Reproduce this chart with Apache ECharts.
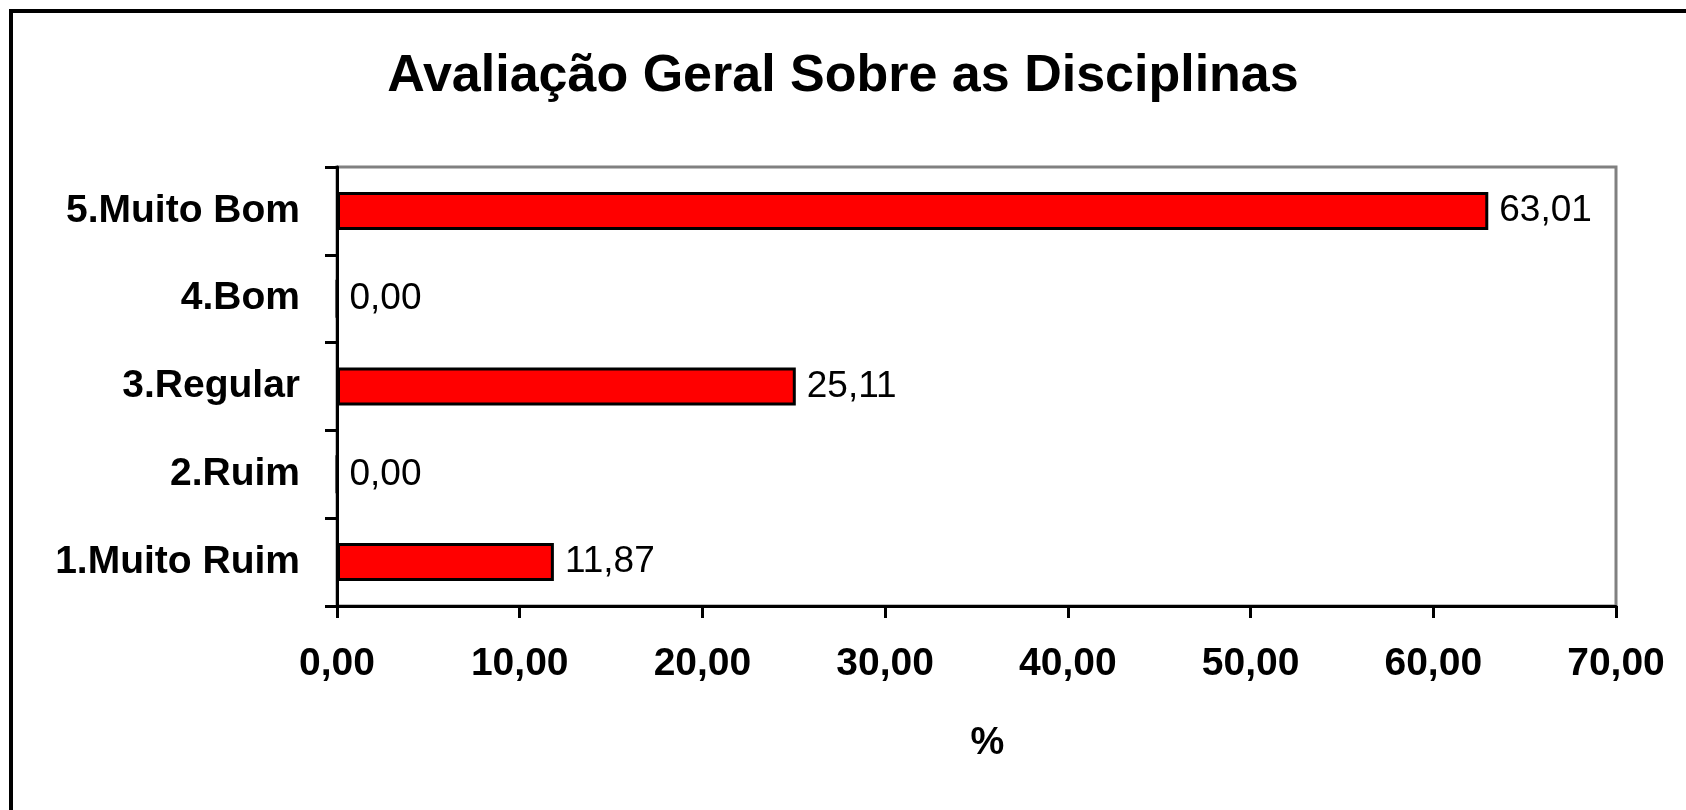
<!DOCTYPE html>
<html>
<head>
<meta charset="utf-8">
<script src="https://cdn.jsdelivr.net/npm/echarts@6/dist/echarts.min.js"></script>
<style>
  html, body {margin: 0; padding: 0; background: #fff;}
  #chart {width: 1686px; height: 810px;}
</style>
</head>
<body>
<div id="chart"></div>
<script>
  // dados
  const categorias = ['1.Muito Ruim', '2.Ruim', '3.Regular', '4.Bom', '5.Muito Bom'];
  const percentuais = [11.87, 0.00, 25.11, 0.00, 63.01];
  const eixoX = {min: 0, max: 70, interval: 10};

  const fonte = "Arial, 'Liberation Sans', sans-serif";
  const virgula = function (v) {
    return Number(v).toFixed(2).replace('.', ',');
  };

  const option = {
    backgroundColor: '#fff',
    animation: false,
    title: {
      text: 'Avaliação Geral Sobre as Disciplinas',
      left: 'center',
      top: 46,
      textStyle: {
        fontFamily: fonte,
        fontSize: 52,
        fontWeight: 'bold',
        color: '#000'
      }
    },
    graphic: [{
      type: 'rect',
      shape: {x: 11, y: 11, width: 2000, height: 2000},
      style: {fill: 'none', stroke: '#000', lineWidth: 4},
      silent: true
    }],
    grid: {
      left: 337,
      right: 70,
      top: 167,
      bottom: 204,
      show: true,
      borderColor: '#808080',
      borderWidth: 3,
      backgroundColor: '#fff'
    },
    xAxis: {
      type: 'value',
      min: eixoX.min,
      max: eixoX.max,
      interval: eixoX.interval,
      name: '%',
      nameLocation: 'middle',
      nameGap: 119,
      nameTextStyle: {
        fontFamily: fonte,
        fontSize: 38,
        fontWeight: 'bold',
        color: '#000',
        padding: [0, 0, 0, 22]
      },
      splitLine: {show: false},
      axisLine: {show: true, lineStyle: {color: '#000', width: 3}},
      axisTick: {show: true, length: 12, lineStyle: {color: '#000', width: 3}},
      axisLabel: {
        margin: 39,
        fontFamily: fonte,
        fontSize: 39,
        fontWeight: 'bold',
        color: '#000',
        formatter: virgula
      }
    },
    yAxis: {
      type: 'category',
      data: categorias,
      axisLine: {show: true, lineStyle: {color: '#000', width: 3}},
      axisTick: {show: true, length: 12, lineStyle: {color: '#000', width: 3}},
      axisLabel: {
        margin: 37,
        fontFamily: fonte,
        fontSize: 39,
        fontWeight: 'bold',
        color: '#000'
      }
    },
    series: [{
      type: 'bar',
      data: percentuais,
      barWidth: 38,
      itemStyle: {
        color: '#ff0000',
        borderColor: '#000',
        borderWidth: 3
      },
      label: {
        show: true,
        position: 'right',
        distance: 11,
        fontFamily: fonte,
        fontSize: 37,
        color: '#000',
        formatter: function (p) { return virgula(p.value); }
      }
    }]
  };

  echarts.init(document.getElementById('chart')).setOption(option);
</script>
</body>
</html>
